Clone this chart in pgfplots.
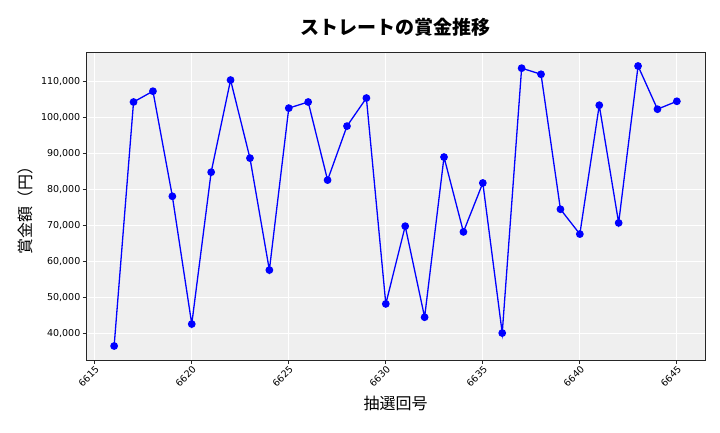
\documentclass[border=0pt]{standalone}
\usepackage{pgfplots}
\pgfplotsset{compat=1.18}
\usepackage{fontspec}
\setmainfont{DejaVu Sans}
\newfontfamily\jp{Noto Sans CJK JP}
\definecolor{bg}{HTML}{EFEFEF}
\definecolor{frm}{HTML}{262626}
\begin{document}
\begin{tikzpicture}
\path[use as bounding box] (0pt,0pt) rectangle (720pt,432pt);
\begin{axis}[
  at={(86pt,72pt)}, anchor=south west,
  scale only axis, width=619pt, height=308pt,
  xmin=6614.55, xmax=6646.45, ymin=32510, ymax=118090,
  axis background/.style={fill=bg},
  axis line style={frm, line width=0.9pt},
  grid=major, major grid style={white, line width=0.8pt},
  xtick={6615,6620,...,6645},
  xticklabels={6615,6620,6625,6630,6635,6640,6645},
  ytick={40000,50000,...,110000},
  yticklabels={{40,000},{50,000},{60,000},{70,000},{80,000},{90,000},{100,000},{110,000}},
  tick align=outside, tick pos=left,
  major tick length=3.5pt,
  tick style={frm, line width=0.8pt},
  x tick label style={font=\fontsize{9.5}{9.5}\selectfont, rotate=45, anchor=north east, inner sep=1pt},
  y tick label style={font=\fontsize{9.5}{9.5}\selectfont, inner sep=2pt},
  scaled y ticks=false,
  xlabel={\jp 抽選回号}, ylabel={\jp 賞金額（円）},
  xlabel style={font=\fontsize{16}{16}\selectfont, yshift=-4pt},
  ylabel style={font=\fontsize{16}{16}\selectfont, yshift=2pt},
  title={\jp\bfseries ストレートの賞金推移},
  title style={font=\fontsize{19}{19}\selectfont, yshift=6pt},
]
\addplot[blue, line width=1.3pt, mark=*, mark size=3.2pt, mark options={fill=blue, draw=blue}] coordinates {
(6616,36400) (6617,104200) (6618,107200) (6619,78000) (6620,42500)
(6621,84700) (6622,110300) (6623,88600) (6624,57500) (6625,102500)
(6626,104200) (6627,82500) (6628,97500) (6629,105300) (6630,48100)
(6631,69700) (6632,44400) (6633,88900) (6634,68100) (6635,81700)
(6636,40000) (6637,113600) (6638,111900) (6639,74400) (6640,67500)
(6641,103300) (6642,70600) (6643,114200) (6644,102200) (6645,104400)
};
\end{axis}
\end{tikzpicture}
\end{document}
